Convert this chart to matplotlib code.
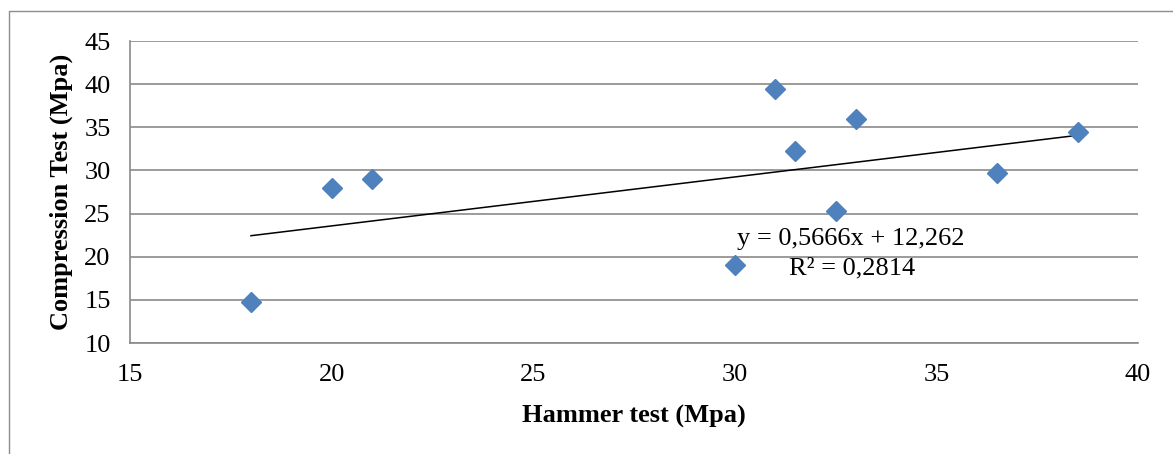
import numpy as np
import matplotlib.pyplot as plt
from matplotlib.patches import Rectangle

# valores
hammer = [18, 20, 21, 30, 31, 31.5, 32.5, 33, 36.5, 38.5]
compression = [14.8, 28.0, 29.0, 19.0, 39.4, 32.3, 25.3, 36.0, 29.7, 34.4]
eq_label = 'y = 0,5666x + 12,262'
r2_label = 'R² = 0,2814'

plt.rcParams['font.family'] = ['Liberation Serif', 'DejaVu Serif']
fs = 19

fig = plt.figure(figsize=(11.73, 4.54), dpi=100)
ax = fig.add_axes([130 / 1173, 1 - 343 / 454, (1138 - 130) / 1173, (343 - 41) / 454])

# moldura da figura (só topo e esquerda visíveis)
fig.patches.append(Rectangle((9 / 1173, -0.2), 1.2, 0.2 + 1 - 11 / 454,
                             transform=fig.transFigure, fill=False,
                             edgecolor='#8c8c8c', lw=1.0, clip_on=False))

ax.set_xlim(15, 40)
ax.set_ylim(10, 45)
ax.set_xticks(np.arange(15, 41, 5))
ax.set_yticks(np.arange(10, 46, 5))
ax.grid(axis='y', color='#8a8a8a', lw=1.2)
ax.set_axisbelow(True)

for s in ('top', 'right'):
    ax.spines[s].set_visible(False)
for s in ('left', 'bottom'):
    ax.spines[s].set_color('#8a8a8a')
    ax.spines[s].set_linewidth(1.2)

ax.tick_params(length=0, labelsize=fs)
ax.tick_params(axis='y', pad=14)
ax.tick_params(axis='x', pad=15)

# linha de tendência
coef = np.polyfit(hammer, compression, 1)
xt = np.array([min(hammer), max(hammer)])
ax.plot(xt, np.polyval(coef, xt), color='black', lw=1.1, zorder=2)

ax.plot(hammer, compression, 'D', color='#4f81bd', ms=10, mec='#4f81bd', zorder=3)

ax.text(32.88, 22.1, eq_label, fontsize=fs, ha='center', va='center')
ax.text(32.9, 18.6, r2_label, fontsize=fs, ha='center', va='center')

ax.set_xlabel('Hammer test (Mpa)', fontsize=fs, fontweight='bold', labelpad=14)
ax.set_ylabel('Compression Test (Mpa)', fontsize=fs, fontweight='bold', labelpad=8)

fig.savefig('out.png', dpi=100)
